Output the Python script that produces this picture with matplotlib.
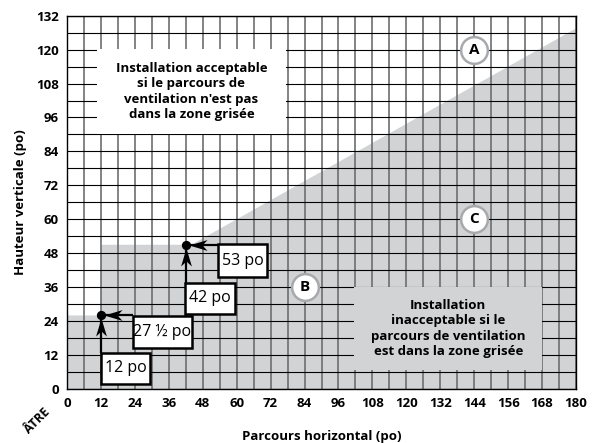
import matplotlib
matplotlib.use("Agg")
import matplotlib.pyplot as plt
from matplotlib.patches import Rectangle, Polygon
from matplotlib.path import Path
import numpy as np

# ---- data ----
x_ticks = list(range(0, 181, 12))
y_ticks = list(range(0, 133, 12))
grid_step = 6
zone_x = [0, 0, 12, 12, 44, 180, 180]
zone_y = [0, 26, 26, 51, 51, 127.5, 0]
dots_x = [12, 42]
dots_y = [26, 51]
label_texts = ["12 po", "27 ½ po", "42 po", "53 po"]
label_boxes = [  # x0, x1, y0, y1
    (12, 29.5, 1.8, 12.8),
    (23.2, 44.3, 14.4, 25.9),
    (41.6, 59.3, 26.5, 37.5),
    (53.4, 70.8, 39.6, 51.1),
]
arrows = [  # start (x,y) -> tip (x,y), direction
    ((12, 12.8), (12, 25.0), 'up'),
    ((23.2, 26), (13.0, 26), 'left'),
    ((42, 37.5), (42, 50.0), 'up'),
    ((53.4, 51), (43.0, 51), 'left'),
]
circle_labels = ["A", "B", "C"]
circle_x = [144, 84, 144]
circle_y = [120, 36, 60]
accept_text = "Installation acceptable\nsi le parcours de\nventilation n'est pas\ndans la zone grisée"
accept_box = (10.5, 77.5, 90.2, 120.2)
reject_text = "Installation\ninacceptable si le\nparcours de ventilation\nest dans la zone grisée"
reject_box = (101.6, 168.1, 6.7, 36.1)

GRAY = "#d1d3d4"
plt.rcParams['font.family'] = ['Open Sans', 'DejaVu Sans']

fig = plt.figure(figsize=(5.92, 4.43), dpi=100)
ax = fig.add_axes([0.1132, 0.1219, 0.973 - 0.1132, 0.9646 - 0.1219])
ax.set_xlim(0, 180)
ax.set_ylim(0, 132)

ax.add_patch(Polygon(list(zip(zone_x, zone_y)), closed=True, facecolor=GRAY,
                     edgecolor='none', zorder=1))

for gx in np.arange(0, 181, grid_step):
    ax.axvline(gx, color="#6d6e71", lw=1.2, zorder=2)
for gy in np.arange(0, 133, grid_step):
    ax.axhline(gy, color="black", lw=0.8, zorder=2)

# text boxes
x0, x1, y0, y1 = accept_box
ax.add_patch(Rectangle((x0, y0), x1 - x0, y1 - y0, facecolor='white', edgecolor='none', zorder=3))
ax.text((x0 + x1) / 2, (y0 + y1) / 2, accept_text, ha='center', va='center',
        fontsize=9.5, fontweight='bold', linespacing=1.25, zorder=4)
x0, x1, y0, y1 = reject_box
ax.add_patch(Rectangle((x0, y0), x1 - x0, y1 - y0, facecolor=GRAY, edgecolor='none', zorder=3))
ax.text((x0 + x1) / 2, (y0 + y1) / 2, reject_text, ha='center', va='center',
        fontsize=9.5, fontweight='bold', linespacing=1.25, zorder=4)

# notched (stealth) arrowheads as path markers, tip at marker origin
head_up = Path([(0, 0), (-0.3, -1), (0, -0.72), (0.3, -1), (0, 0)],
               [Path.MOVETO, Path.LINETO, Path.LINETO, Path.LINETO, Path.CLOSEPOLY])
head_left = Path([(0, 0), (1, 0.3), (0.72, 0), (1, -0.3), (0, 0)],
                 [Path.MOVETO, Path.LINETO, Path.LINETO, Path.LINETO, Path.CLOSEPOLY])
heads = {'up': head_up, 'left': head_left}
for (s, e, d) in arrows:
    ax.plot([s[0], e[0]], [s[1], e[1]], color='black', lw=1.6, solid_capstyle='butt', zorder=5)
    ax.plot([e[0]], [e[1]], marker=heads[d], markersize=26, color='black',
            markeredgewidth=0, linestyle='none', zorder=5)
ax.scatter(dots_x, dots_y, s=32, color='black', zorder=6)

# label boxes
for t, (x0, x1, y0, y1) in zip(label_texts, label_boxes):
    ax.add_patch(Rectangle((x0, y0), x1 - x0, y1 - y0, facecolor='white',
                           edgecolor='black', lw=1.8, zorder=7))
    ax.text((x0 + x1) / 2, (y0 + y1) / 2, t, ha='center', va='center',
            fontsize=11.5, zorder=8)

# circles
ax.scatter(circle_x, circle_y, s=370, facecolor='white', edgecolor='#a7a9ac',
           linewidths=1.8, zorder=9)
for t, cx, cy in zip(circle_labels, circle_x, circle_y):
    ax.text(cx, cy, t, ha='center', va='center', fontsize=11, fontweight='bold', zorder=10)

ax.set_xticks(x_ticks)
ax.set_yticks(y_ticks)
ax.set_xticklabels([str(v) for v in x_ticks], fontweight='bold', fontsize=9.5)
ax.set_yticklabels([str(v) for v in y_ticks], fontweight='bold', fontsize=9.5)
ax.tick_params(length=0, pad=6)
for sp in ax.spines.values():
    sp.set_linewidth(1.0)
    sp.set_zorder(11)

ax.text(-10.6, -11.3, "ÂTRE", rotation=45, ha='center', va='center',
        fontsize=9, fontweight='bold', clip_on=False)
ax.set_xlabel("Parcours horizontal (po)", fontweight='bold', fontsize=9.5, labelpad=14)
ax.set_ylabel("Hauteur verticale (po)", fontweight='bold', fontsize=9.5, labelpad=6)

fig.savefig("out.png", dpi=100)
